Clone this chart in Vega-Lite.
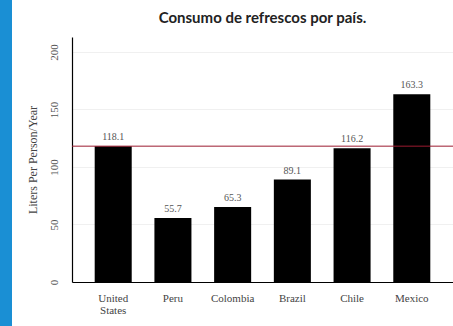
{
  "$schema": "https://vega.github.io/schema/vega-lite/v6.json",
  "padding": 0,
  "spacing": 13,
  "background": "white",
  "config": {"view": {"stroke": null}},
  "hconcat": [
    {
      "width": 12,
      "height": 326,
      "view": {"fill": "#1a8fd4", "stroke": null},
      "data": {"values": [{"k": 1}]},
      "mark": {"type": "point", "opacity": 0},
      "encoding": {}
    },
    {
      "width": 381,
      "height": 282,
      "title": {
        "text": "Consumo de refrescos por país.",
        "font": "Lato",
        "fontSize": 15,
        "fontWeight": "bold",
        "color": "#222222",
        "offset": -26,
        "anchor": "middle"
      },
      "data": {
        "values": [
          {"country": "United States", "liters": 118.1},
          {"country": "Peru", "liters": 55.7},
          {"country": "Colombia", "liters": 65.3},
          {"country": "Brazil", "liters": 89.1},
          {"country": "Chile", "liters": 116.2},
          {"country": "Mexico", "liters": 163.3}
        ]
      },
      "encoding": {
        "x": {
          "field": "country",
          "type": "nominal",
          "sort": null,
          "scale": {"paddingInner": 0.38, "paddingOuter": 0.38},
          "axis": {
            "title": null,
            "labelAngle": 0,
            "labelFont": "Liberation Serif",
            "labelFontSize": 11,
            "labelColor": "#444444",
            "labelPadding": 10,
            "labelExpr": "split(datum.label, ' ')",
            "labelLineHeight": 12,
            "ticks": false,
            "domainColor": "#000000",
            "domainWidth": 1.2
          }
        }
      },
      "layer": [
        {
          "mark": {"type": "bar", "color": "#000000"},
          "encoding": {
            "y": {
              "field": "liters",
              "type": "quantitative",
              "scale": {"domain": [0, 213], "nice": false, "range": [282, 37]},
              "axis": {
                "title": "Liters Per Person/Year",
                "titleFont": "Liberation Serif",
                "titleFontSize": 12,
                "titleFontWeight": "normal",
                "titleColor": "#444444",
                "titlePadding": 9,
                "values": [0, 50, 100, 150, 200],
                "labelAngle": -90,
                "labelAlign": "center",
                "labelBaseline": "bottom",
                "labelFont": "Liberation Serif",
                "labelFontSize": 11,
                "labelColor": "#555555",
                "labelPadding": 13,
                "ticks": false,
                "domainColor": "#000000",
                "domainWidth": 1.2,
                "gridColor": "#f0f0f0",
                "grid": true
              }
            }
          }
        },
        {
          "mark": {"type": "text", "font": "Liberation Serif", "fontSize": 10, "color": "#555555", "baseline": "bottom", "dy": -4},
          "encoding": {
            "y": {"field": "liters", "type": "quantitative"},
            "text": {"field": "liters", "type": "quantitative", "format": ".1f"}
          }
        },
        {
          "data": {"values": [{"ref": 118.1}]},
          "mark": {"type": "rule", "color": "#9b1b30", "strokeWidth": 1},
          "encoding": {
            "x": null,
            "y": {"field": "ref", "type": "quantitative"}
          }
        }
      ]
    }
  ]
}
